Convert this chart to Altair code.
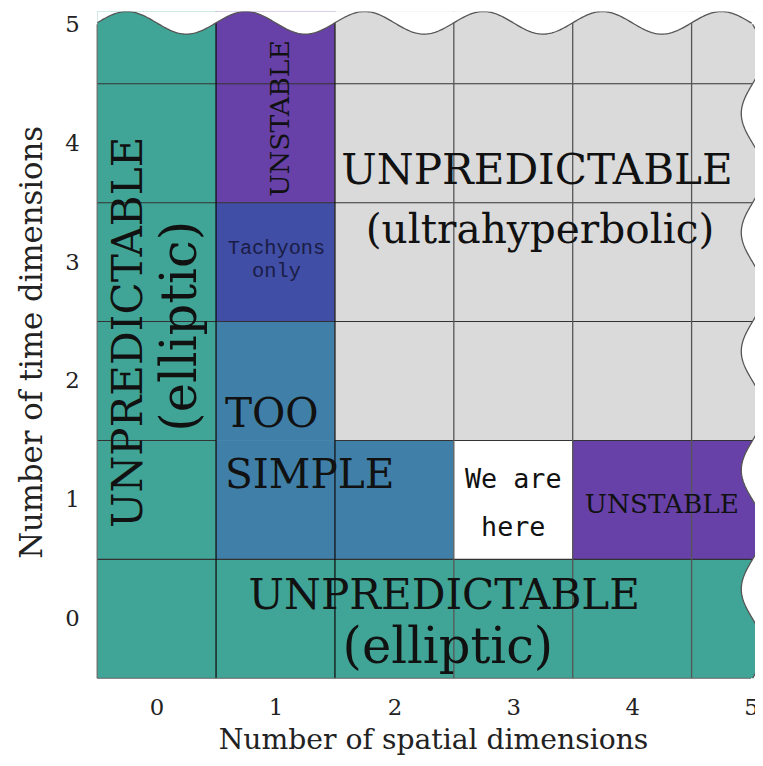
import altair as alt
import pandas as pd
import numpy as np

# ---------------- data ----------------
spatial = [0, 1, 2, 3, 4, 5]
time_dims = [0, 1, 2, 3, 4, 5]
# region of each cell, one row per number of time dimensions (0..5)
regions = [
    ["elliptic", "elliptic", "elliptic", "elliptic", "elliptic", "elliptic"],
    ["elliptic", "simple", "simple", "here", "unstable", "unstable"],
    ["elliptic", "simple", "ultra", "ultra", "ultra", "ultra"],
    ["elliptic", "tachyon", "ultra", "ultra", "ultra", "ultra"],
    ["elliptic", "unstable", "ultra", "ultra", "ultra", "ultra"],
    ["elliptic", "unstable", "ultra", "ultra", "ultra", "ultra"],
]
cat_names = ["elliptic", "simple", "here", "unstable", "tachyon", "ultra"]
cat_colors = ["#40A596", "#4080A8", "#FFFFFF", "#6741A8", "#404EA5", "#DADADA"]
tick_values = [0, 1, 2, 3, 4, 5]

# annotations: text, x, y (baseline), size, font, angle, align, color
SERIF = "DejaVu Serif"
MONO = "DejaVu Sans Mono"
MONO2 = "Liberation Mono"
labels = [
    ("UNPREDICTABLE", 3.2, 3.66, 42.5, SERIF, 0, "center", "#111"),
    ("(ultrahyperbolic)", 3.225, 3.165, 41, SERIF, 0, "center", "#111"),
    ("UNPREDICTABLE", 2.42, 0.085, 42.5, SERIF, 0, "center", "#111"),
    ("(elliptic)", 2.45, -0.37, 50, SERIF, 0, "center", "#111"),
    ("UNPREDICTABLE", -0.125, 2.41, 42.5, SERIF, 270, "center", "#111"),
    ("(elliptic)", 0.335, 2.46, 50, SERIF, 270, "center", "#111"),
    ("UNSTABLE", 1.115, 4.21, 27, SERIF, 270, "center", "#111"),
    ("UNSTABLE", 4.25, 0.892, 26.5, SERIF, 0, "center", "#111"),
    ("Tachyons", 1.008, 3.067, 20.5, MONO2, 0, "center", "#1a1c45"),
    ("only", 1.008, 2.875, 20.5, MONO2, 0, "center", "#1a1c45"),
    ("We are", 3.0, 1.10, 27, MONO, 0, "center", "#111"),
    ("here", 3.0, 0.70, 27, MONO, 0, "center", "#111"),
    ("TOO", 0.575, 1.617, 41, SERIF, 0, "left", "#111"),
    ("SIMPLE", 0.575, 1.10, 41, SERIF, 0, "left", "#111"),
]

# ---------------- layout constants ----------------
PX_PER_UNIT = 120
W = 664
H = 673
X_DOM = [-0.5, -0.5 + W / PX_PER_UNIT]
Y_DOM = [-0.5, -0.5 + H / PX_PER_UNIT]
XS = alt.Scale(domain=X_DOM, nice=False, zero=False)
YS = alt.Scale(domain=Y_DOM, nice=False, zero=False)

AX = alt.Axis(values=tick_values, title="Number of spatial dimensions",
              ticks=False, tickSize=0, domain=False, grid=False,
              labelPadding=19, format="d", titleFontSize=28.5,
              titleX=339, titleY=71, titleBaseline="alphabetic")
AY = alt.Axis(values=tick_values, title="Number of time dimensions",
              ticks=False, tickSize=0, domain=False, grid=False,
              labelPadding=18, format="d", titleFontSize=31,
              titleX=-56, titleY=H / 2 - 3, titleAngle=270,
              titleBaseline="alphabetic", titleAlign="center")


def X(field, **kw):
    return alt.X(field, scale=XS, axis=AX, **kw)


def Y(field, **kw):
    return alt.Y(field, scale=YS, axis=AY, **kw)


# wavy "continues beyond" border (decorative)
WAVE_MID, WAVE_AMP = 5.013, 0.095


def wave(v):
    return WAVE_MID + WAVE_AMP * np.cos(2 * np.pi * (v + 0.25))


# ---------------- tables ----------------
cells = pd.DataFrame(
    [{"s": s, "t": t, "region": regions[i][j]}
     for i, t in enumerate(time_dims) for j, s in enumerate(spatial)]
)

hseg = []
for i in range(len(time_dims) - 1):
    for j, s in enumerate(spatial):
        if regions[i][j] == "simple" and regions[i + 1][j] == "simple":
            continue
        hseg.append({"y": time_dims[i] + 0.5, "x0": s - 0.5, "x1": s + 0.5})
hseg = pd.DataFrame(hseg)

vlines = pd.DataFrame({"x": [s + 0.5 for s in spatial[:-1]],
                       "c": ["#111", "#111", "#555", "#555", "#555"]})

wx = np.linspace(X_DOM[0], X_DOM[1] + 0.05, 500)
top = pd.DataFrame({"x": wx, "y": wave(wx)})
wy = np.linspace(Y_DOM[0], Y_DOM[1] + 0.05, 500)
right = pd.DataFrame({"y": wy, "x": wave(wy), "i": np.arange(len(wy))})
top_line = top[top["x"] <= wave(top["y"])]
right_line = right[right["y"] <= wave(right["x"])]

# ---------------- layers ----------------
fill_scale = alt.Scale(domain=cat_names, range=cat_colors)

rects = alt.Chart(cells).transform_calculate(
    x0="datum.s - 0.5", x1="datum.s + 0.5",
    y0="datum.t - 0.5", y1="datum.t + 0.5",
).mark_rect(strokeWidth=0.6, clip=True).encode(
    x=X("x0:Q"), x2="x1:Q",
    y=Y("y0:Q"), y2="y1:Q",
    fill=alt.Fill("region:N", scale=fill_scale, legend=None),
    stroke=alt.Stroke("region:N", scale=fill_scale, legend=None),
)

hrules = alt.Chart(hseg).mark_rule(color="#333", strokeWidth=1.1).encode(
    x=X("x0:Q"), x2="x1:Q", y=Y("y:Q"),
)

vrules = alt.Chart(vlines).mark_rule(strokeWidth=1.3, clip=True).encode(
    x=X("x:Q"),
    y=alt.datum(Y_DOM[0]), y2=alt.datum(Y_DOM[1]),
    color=alt.Color("c:N", scale=None),
)

one = pd.DataFrame({"x0": [X_DOM[0]], "y0": [Y_DOM[0]], "e": [5.0]})
border_l = alt.Chart(one).mark_rule(color="#666", strokeWidth=1.2).encode(
    x=X("x0:Q"), y=Y("y0:Q"), y2="e:Q",
)
border_b = alt.Chart(one).mark_rule(color="#666", strokeWidth=1.2).encode(
    y=Y("y0:Q"), x=X("x0:Q"), x2="e:Q",
)

text_layers = []
for (t, x, y, size, font, angle, align, color) in labels:
    df = pd.DataFrame({"x": [x], "y": [y], "t": [t]})
    text_layers.append(
        alt.Chart(df).mark_text(font=font, fontSize=size, angle=angle, align=align,
                                baseline="alphabetic", color=color).encode(
            x=X("x:Q"), y=Y("y:Q"), text="t:N",
        )
    )

top_mask = alt.Chart(top).mark_area(color="white", clip=True).encode(
    x=X("x:Q"), y=Y("y:Q", stack=None), y2=alt.value(-20),
)
right_mask = alt.Chart(right).mark_area(color="white", clip=True, orient="horizontal").encode(
    y=Y("y:Q"), x=X("x:Q", stack=None), x2=alt.value(W + 20),
)
top_edge = alt.Chart(top_line).mark_line(color="#555", strokeWidth=1.3, clip=True).encode(
    x=X("x:Q"), y=Y("y:Q"),
)
right_edge = alt.Chart(right_line).mark_line(color="#555", strokeWidth=1.3, clip=True).encode(
    x=X("x:Q"), y=Y("y:Q"), order="i:Q",
)

chart = alt.layer(
    rects, hrules, vrules, border_l, border_b, *text_layers,
    top_mask, right_mask, top_edge, right_edge,
).properties(
    width=W, height=H,
    autosize=alt.AutoSizeParams(type="none"),
    padding={"left": 90, "top": 0, "right": 0, "bottom": 77},
).configure_view(stroke=None).configure_axis(
    labelFont=SERIF, labelFontSize=23, labelColor="#222",
    titleFont=SERIF, titleFontSize=24, titleColor="#222", titleFontWeight="normal",
)

chart.save("out.html", embed_options={"renderer": "svg", "actions": False})
